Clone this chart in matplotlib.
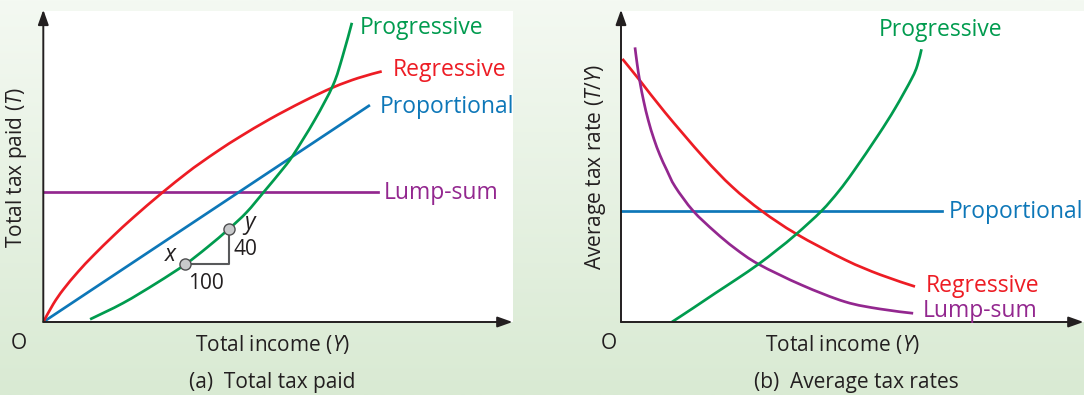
import numpy as np
import matplotlib.pyplot as plt
from matplotlib.colors import LinearSegmentedColormap
from matplotlib.path import Path
from matplotlib.patches import PathPatch

plt.rcParams['font.family'] = ['Open Sans', 'DejaVu Sans']
plt.rcParams['mathtext.fontset'] = 'custom'
plt.rcParams['mathtext.rm'] = 'Open Sans'
plt.rcParams['mathtext.it'] = 'Open Sans:italic'

# --- panel (a): total tax paid (income 0-100, tax 0-100) ---
lump_a_x = [0, 71.3]
lump_a_y = [41.9, 41.9]
prop_a_x = [0, 69.3]
prop_a_y = [0, 69.5]
reg_a_x = [0, 2.13, 4.26, 7.45, 10.65, 14.90, 19.16, 25.21, 30.53, 33.36, 37.62, 41.88, 48.26, 55.35,
           61.74, 67.06, 72.05]
reg_a_y = [0, 5.79, 10.45, 16.24, 21.38, 27.68, 33.60, 41.45, 47.88, 51.03, 55.47, 59.58, 65.27, 70.93,
           75.47, 78.46, 80.58]
prog_a_x = [9.96, 17.0, 24.1, 30.2, 34.9, 39.5, 43.3, 47.0, 51.1, 53.2, 57.8, 61.7, 63.7, 65.7]
prog_a_y = [0.87, 6.1, 12.5, 18.5, 24.0, 29.9, 35.3, 41.9, 49.4, 53.7, 65.0, 76.2, 85.3, 96.2]
# points x and y on the progressive curve
pts_x = [30.2, 39.5]
pts_y = [18.5, 29.9]

# --- panel (b): average tax rates ---
prop_b_x = [0, 69.3]
prop_b_y = [35.7, 35.7]
reg_b_x = [0.3, 4.0, 9.5, 17.8, 24.0, 30.4, 37.9, 48.4, 56.0, 63.5]
reg_b_y = [84.6, 77.8, 67.4, 53.0, 43.5, 35.7, 28.3, 20.0, 15.2, 11.4]
lump_b_x = [3.02, 3.5, 4.1, 4.9, 5.9, 7.1, 8.4, 9.87, 11.7, 15.6, 20.3, 24.6, 29.7, 39.0, 48.4, 55.9, 63.1]
lump_b_y = [88.3, 82.8, 77.1, 71.0, 64.8, 58.9, 53.7, 48.9, 43.5, 35.7, 29.0, 23.7, 18.6, 11.9, 6.5, 4.2, 2.8]
prog_b_x = [11.0, 15.6, 20.3, 25.0, 29.7, 33.8, 37.9, 43.3, 47.0, 50.3, 55.6, 59.2, 62.8, 64.0, 64.9]
prog_b_y = [0, 4.5, 9.2, 13.8, 18.6, 23.3, 28.3, 35.7, 42.0, 48.6, 60.2, 68.7, 78.3, 82.5, 87.7]

red = '#ed1c24'
blue = '#0d77b8'
green = '#009b4e'
purple = '#93278f'
dark = '#231f20'
fs_lab = 16.5
fs_ax = 15


def smooth_line(ax, xs, ys, color, lw):
    # draw a smooth curve through the points (Catmull-Rom as cubic bezier)
    p = np.column_stack([xs, ys]).astype(float)
    q = np.vstack([p[0], p, p[-1]])
    verts = [tuple(p[0])]
    codes = [Path.MOVETO]
    for i in range(1, len(q) - 2):
        c1 = q[i] + (q[i + 1] - q[i - 1]) / 6.0
        c2 = q[i + 1] - (q[i + 2] - q[i]) / 6.0
        verts += [tuple(c1), tuple(c2), tuple(q[i + 1])]
        codes += [Path.CURVE4] * 3
    ax.add_patch(PathPatch(Path(verts, codes), fill=False, edgecolor=color, lw=lw,
                           capstyle='butt', zorder=2))


fig = plt.figure(figsize=(10.84, 3.95), dpi=100)

# soft green background
bg = fig.add_axes([0, 0, 1, 1], zorder=-10)
grad = np.linspace(0, 1, 256).reshape(-1, 1)
cmap = LinearSegmentedColormap.from_list('bg', ['#f4f9f2', '#d9ead3'])
bg.imshow(grad, aspect='auto', cmap=cmap, extent=[0, 1, 0, 1])
bg.axis('off')

W, H = 1084, 395
ax_a = fig.add_axes([43.3 / W, 73 / H, 469.7 / W, 311 / H])
ax_b = fig.add_axes([621 / W, 73 / H, 463 / W, 311 / H])

for ax in (ax_a, ax_b):
    ax.set_xlim(0, 100)
    ax.set_ylim(0, 100)
    ax.set_facecolor('white')
    for s in ax.spines.values():
        s.set_visible(False)
    ax.set_xticks([])
    ax.set_yticks([])
    arw = dict(arrowstyle='-|>,head_length=0.9,head_width=0.32', color=dark, lw=1.4,
               shrinkA=0, shrinkB=0, mutation_scale=10)
    ax.annotate('', xy=(0.999, 0), xytext=(0, 0), xycoords='axes fraction',
                arrowprops=arw, annotation_clip=False)
    ax.annotate('', xy=(0, 1.004), xytext=(0, 0), xycoords='axes fraction',
                arrowprops=arw, annotation_clip=False)

lw = 1.95
# panel (a)
ax_a.plot(lump_a_x, lump_a_y, color=purple, lw=lw)
ax_a.plot(prop_a_x, prop_a_y, color=blue, lw=lw)
smooth_line(ax_a, reg_a_x, reg_a_y, red, lw)
smooth_line(ax_a, prog_a_x, prog_a_y, green, lw)
ax_a.plot([pts_x[0], pts_x[1], pts_x[1]], [pts_y[0], pts_y[0], pts_y[1]],
          color='#58595b', lw=1.5, zorder=3)
ax_a.plot(pts_x, pts_y, 'o', ms=8, mfc='#c8c9cb', mec='#4d4d4f', mew=1.0, zorder=4)
ax_a.text(27.3, 21.5, '$x$', fontsize=fs_lab, color=dark, ha='center', va='center')
ax_a.text(44.0, 31.2, '$y$', fontsize=fs_lab, color=dark, ha='center', va='center')
ax_a.text(40.5, 23.2, '40', fontsize=fs_ax, color=dark, ha='left', va='center')
ax_a.text(34.6, 12.4, '100', fontsize=fs_ax, color=dark, ha='center', va='center')

ax_a.text(67.3, 94.4, 'Progressive', color=green, fontsize=fs_lab, va='center')
ax_a.text(74.5, 81.0, 'Regressive', color=red, fontsize=fs_lab, va='center')
ax_a.text(71.7, 69.2, 'Proportional', color=blue, fontsize=fs_lab, va='center')
ax_a.text(72.5, 41.4, 'Lump-sum', color=purple, fontsize=fs_lab, va='center')

ax_a.text(-5.2, -6.8, 'O', fontsize=fs_ax, color=dark, ha='center', va='center')
ax_a.text(48.9, -7.1, 'Total income ($Y$)', fontsize=fs_ax, color=dark, ha='center', va='center')
ax_a.text(48.7, -19.6, '(a)  Total tax paid', fontsize=fs_ax, color=dark, ha='center', va='center')
ax_a.text(-5.6, 49.8, 'Total tax paid ($T$)', fontsize=fs_ax, color=dark, ha='center',
          va='center', rotation=90)

# panel (b)
ax_b.plot(prop_b_x, prop_b_y, color=blue, lw=lw)
smooth_line(ax_b, reg_b_x, reg_b_y, red, lw)
smooth_line(ax_b, lump_b_x, lump_b_y, purple, lw)
smooth_line(ax_b, prog_b_x, prog_b_y, green, lw)

ax_b.text(55.6, 93.9, 'Progressive', color=green, fontsize=fs_lab, va='center')
ax_b.text(70.8, 35.5, 'Proportional', color=blue, fontsize=fs_lab, va='center')
ax_b.text(65.9, 11.6, 'Regressive', color=red, fontsize=fs_lab, va='center')
ax_b.text(65.1, 3.6, 'Lump-sum', color=purple, fontsize=fs_lab, va='center')

ax_b.text(-2.6, -6.8, 'O', fontsize=fs_ax, color=dark, ha='center', va='center')
ax_b.text(47.9, -7.1, 'Total income ($Y$)', fontsize=fs_ax, color=dark, ha='center', va='center')
ax_b.text(50.8, -19.6, '(b)  Average tax rates', fontsize=fs_ax, color=dark, ha='center', va='center')
ax_b.text(-5.6, 49.9, 'Average tax rate ($T/Y$)', fontsize=fs_ax, color=dark, ha='center',
          va='center', rotation=90)

fig.savefig('out.png', dpi=100)
